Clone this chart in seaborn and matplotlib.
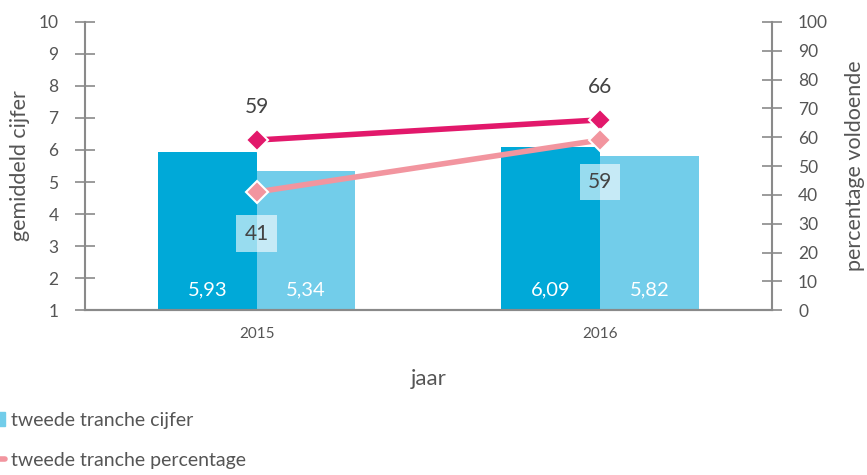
"""Gemiddeld cijfer en percentage voldoende per tranche, 2015-2016."""

import matplotlib

matplotlib.use("Agg")

import matplotlib.pyplot as plt
import pandas as pd
import seaborn as sns
from matplotlib.lines import Line2D
from matplotlib.patches import Patch

sns.set_style("white")
plt.rcParams["font.family"] = ["Lato", "DejaVu Sans"]

JAREN = ["2015", "2016"]
TRANCHES = ["eerste tranche", "tweede tranche"]
CIJFER_EERSTE = [5.93, 6.09]
CIJFER_TWEEDE = [5.34, 5.82]
PCT_EERSTE = [59, 66]
PCT_TWEEDE = [41, 59]

KLEUR_BALK = ["#00a9d8", "#72cdea"]
KLEUR_LIJN = ["#e2186b", "#f2959f"]
GRIJS = "#8a8a8a"
TEKST = "#555555"

df = pd.DataFrame({
    "jaar": JAREN * 2,
    "tranche": [TRANCHES[0]] * 2 + [TRANCHES[1]] * 2,
    "cijfer": CIJFER_EERSTE + CIJFER_TWEEDE,
})
pct = pd.DataFrame({
    "jaar": JAREN * 2,
    "tranche": [TRANCHES[0]] * 2 + [TRANCHES[1]] * 2,
    "pct": PCT_EERSTE + PCT_TWEEDE,
})

fig = plt.figure(figsize=(8.67, 4.75), dpi=100)
ax = fig.add_axes([0.098, 0.347, 0.792, 0.607])

sns.barplot(data=df, x="jaar", y="cijfer", hue="tranche", palette=KLEUR_BALK,
            width=0.575, gap=0, ax=ax, legend=False, saturation=1,
            linewidth=0)
for cont in ax.containers:
    for balk in cont:
        h = balk.get_height()
        ax.text(balk.get_x() + balk.get_width() / 2, 1.62,
                f"{h:.2f}".replace(".", ","), ha="center", va="center",
                color="white", fontsize=14.5)

ax.set_ylim(1, 10)
ax.set_xlim(-0.5, 1.5)
ax.set_yticks(range(1, 11))
ax.set_xticks([0.5], minor=True)
ax.set_ylabel("gemiddeld cijfer", fontsize=15.5, color=TEKST, labelpad=6)
ax.set_xlabel("jaar", fontsize=16, color=TEKST, labelpad=20)

ax2 = ax.twinx()
for i, tranche in enumerate(TRANCHES):
    sub = pct[pct["tranche"] == tranche]
    sns.pointplot(data=sub, x="jaar", y="pct", color=KLEUR_LIJN[i],
                  markers="D", ax=ax2, linewidth=4, markersize=11,
                  markeredgecolor="white", markeredgewidth=1.5)
ax2.set_ylim(0, 100)
ax2.set_yticks(range(0, 101, 10))
ax2.set_xlim(-0.5, 1.5)
ax2.set_ylabel("percentage voldoende", fontsize=15.5, color=TEKST,
               labelpad=12)

for x, v in enumerate(PCT_EERSTE):
    ax2.text(x, v + 11.5, str(v), ha="center", va="center",
             fontsize=15, color="#444444")
for x, v in enumerate(PCT_TWEEDE):
    ax2.text(x, v - 14.5, str(v), ha="center", va="center",
             fontsize=15, color="#444444",
             bbox=dict(boxstyle="square,pad=0.4", fc="white", ec="none",
                       alpha=0.6))

for a in (ax, ax2):
    a.spines["top"].set_visible(False)
    for kant in ("left", "right", "bottom"):
        a.spines[kant].set_color(GRIJS)
        a.spines[kant].set_linewidth(1.5)
    a.tick_params(axis="y", direction="inout", length=14, width=1.2,
                  color=GRIJS, labelcolor=TEKST, labelsize=12.5)
    a.tick_params(axis="x", which="both", direction="inout", length=14,
                  width=1.2, color=GRIJS, labelcolor=TEKST, labelsize=11)
ax.tick_params(axis="x", which="major", length=0, pad=12)
ax.tick_params(axis="y", left=True, right=False, pad=12)
ax2.tick_params(axis="y", right=True, left=False, pad=12)
ax2.spines["left"].set_visible(False)
ax.spines["right"].set_visible(False)

handles = [Patch(color=KLEUR_BALK[1]),
           Line2D([0], [0], color=KLEUR_LIJN[1], linewidth=4)]
labels = ["tweede tranche cijfer", "tweede tranche percentage"]
fig.legend(handles, labels, loc="upper left", bbox_to_anchor=(-0.012, 0.133),
           frameon=False, fontsize=14, labelcolor=TEKST, handlelength=0.8,
           handletextpad=0.3, labelspacing=1.2, borderaxespad=0,
           borderpad=0)

fig.savefig("out.png", dpi=100)
